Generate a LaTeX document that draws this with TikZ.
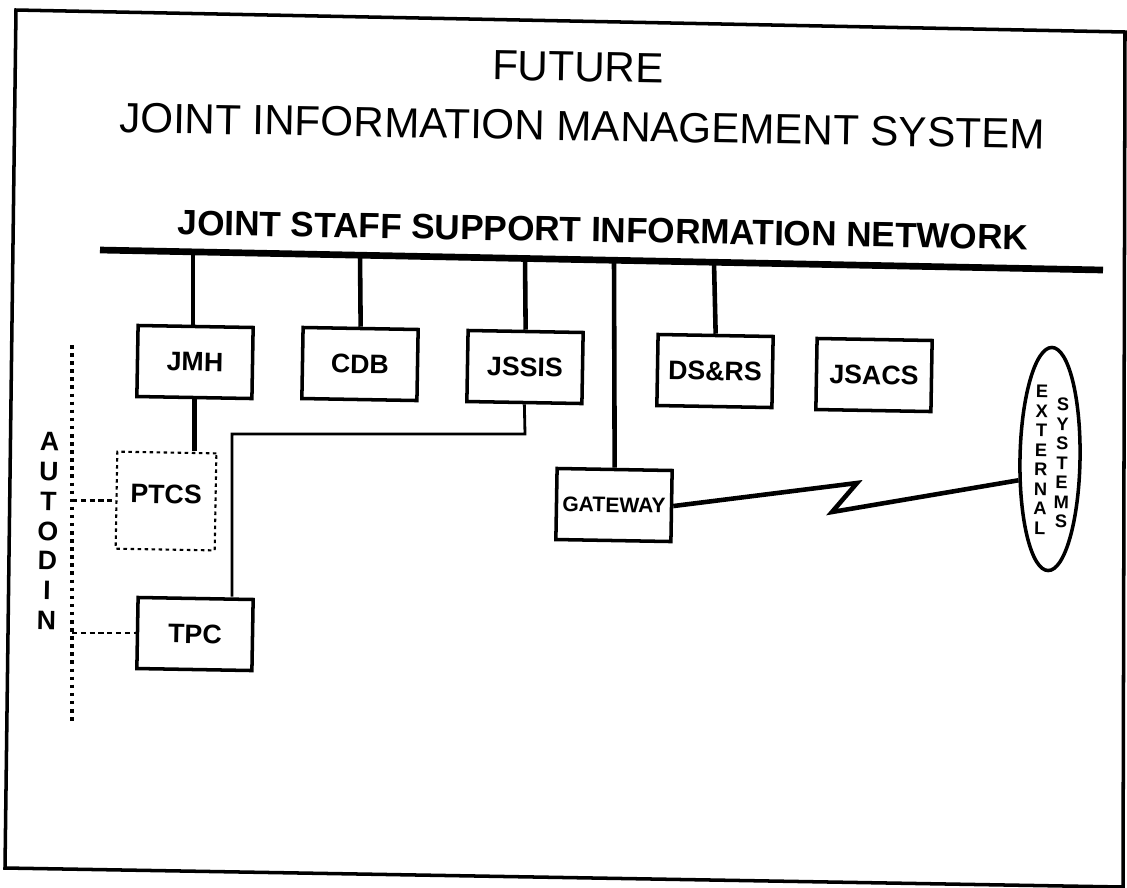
\documentclass[tikz,border=0pt]{standalone}
\usepackage{fontspec}
\setmainfont{Liberation Sans}
\usetikzlibrary{shapes.geometric}

\begin{document}
\begin{tikzpicture}[x=0.01cm, y=-0.01cm, line width=1pt,
  every node/.style={rotate=-1},
  box/.style={draw, line width=1pt, inner sep=1pt, minimum width=1.15cm, minimum height=0.71cm, font=\bfseries\fontsize{7.6}{9}\selectfont},
  dotbox/.style={box, densely dotted, line width=0.6pt, minimum width=0.99cm, minimum height=0.97cm, text depth=0.14cm},
  bus/.style={line width=1.9pt},
  link/.style={line width=1.3pt},
  thin link/.style={line width=0.8pt},
  dots/.style={line width=1pt, dash pattern=on 1pt off 1.3pt},
  dashes/.style={line width=0.8pt, dash pattern=on 1.5pt off 1pt},
  stack/.style={align=center, font=\bfseries\fontsize{7.6}{8.5}\selectfont},
  tiny stack/.style={align=center, font=\bfseries\fontsize{5.2}{5.55}\selectfont}]

\useasboundingbox (0,0) rectangle (1127,887);

\draw (16,10) -- (1125,32) -- (1123,887) -- (5,868) -- cycle;

\node[font=\fontsize{12}{14}\selectfont] (future) at (578,67) {FUTURE};
\node[font=\fontsize{12}{14}\selectfont] (jims) at (582,126) {JOINT INFORMATION MANAGEMENT SYSTEM};
\node[font=\bfseries\fontsize{10}{12}\selectfont] (jssin) at (603,230) {JOINT STAFF SUPPORT INFORMATION NETWORK};

\draw[bus] (100,250) coordinate (busL) -- (1103,270) coordinate (busR);
\coordinate (tapJMH) at (193,252);
\coordinate (tapCDB) at (360,255);
\coordinate (tapJSSIS) at (525,258.5);
\coordinate (tapGW) at (614,260);
\coordinate (tapDSRS) at (714,262);

\node[box] (jmh) at (195,362) {JMH};
\node[box] (cdb) at (360,364) {CDB};
\node[box] (jssis) at (525,367) {JSSIS};
\node[box] (dsrs) at (715,371) {DS\&RS};
\node[box] (jsacs) at (874,375) {JSACS};
\node[dotbox] (ptcs) at (166,501) {PTCS};
\node[box] (tpc) at (195,634) {TPC};
\node[box, font=\bfseries\fontsize{6}{7}\selectfont] (gateway) at (614,505) {GATEWAY};
\node[draw, ellipse, line width=1pt, minimum width=0.6cm, minimum height=2.23cm, inner sep=0pt] (ext) at (1050,459) {};
\node[tiny stack] (extA) at (1041,460) {E\\X\\T\\E\\R\\N\\A\\L};
\node[tiny stack] (extB) at (1062,463) {S\\Y\\S\\T\\E\\M\\S};

\draw[link] (tapJMH) -- (jmh.north -| tapJMH);
\draw[link] (tapCDB) -- (cdb.north);
\draw[link] (tapJSSIS) -- (jssis.north);
\draw[link] (tapDSRS) -- (dsrs.north);
\draw[link] (tapGW) -- (gateway.north);
\draw[link] (jmh.south) -- (jmh.south |- ptcs.north);

\coordinate (elbowA) at (232,434);
\coordinate (elbowB) at (525,434);
\draw[thin link] (tpc.north -| elbowA) -- (elbowA) -- (elbowB) -- (jssis.south);

\coordinate (zigA) at (857,483);
\coordinate (zigB) at (832,512);
\draw[link] (gateway.east) -- (zigA) -- (zigB) -- (ext.215);

\coordinate (autoTop) at (72,345);
\coordinate (autoBot) at (72,725);
\draw[dots] (autoTop) -- (autoBot);
\draw[dashes] (ptcs.west -| autoTop) -- (ptcs.west);
\draw[dashes] (tpc.west -| autoTop) -- (tpc.west);
\node[stack] (autodin) at (48,531) {A\\U\\T\\O\\D\\I\\N};

\end{tikzpicture}
\end{document}
